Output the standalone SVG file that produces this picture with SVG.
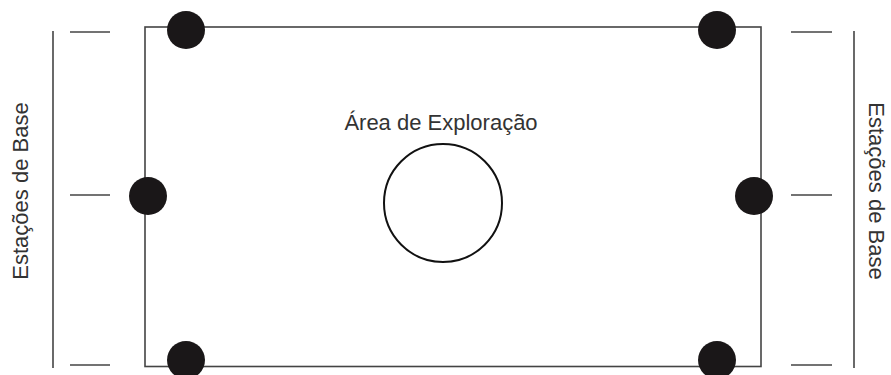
<svg xmlns="http://www.w3.org/2000/svg" width="891" height="375" viewBox="0 0 891 375">
<style>
.ln{stroke:#444;stroke-width:1.6;fill:none}
.dot{fill:#1a1718}
.lbl{font-family:"Liberation Sans",Arial,sans-serif;font-size:22px;fill:#333}
</style>
<rect width="891" height="375" fill="#fff"/>
<g id="connectors">
<rect class="ln" x="145" y="27" width="616" height="339.5"/>
<line class="ln" x1="53" y1="31" x2="53" y2="368"/>
<line class="ln" x1="70" y1="32" x2="110" y2="32"/>
<line class="ln" x1="70" y1="195" x2="110" y2="195"/>
<line class="ln" x1="70" y1="365" x2="110" y2="365"/>
<line class="ln" x1="854" y1="31" x2="854" y2="368"/>
<line class="ln" x1="791" y1="32" x2="832" y2="32"/>
<line class="ln" x1="791" y1="195" x2="832" y2="195"/>
<line class="ln" x1="791" y1="365" x2="832" y2="365"/>
</g>
<g id="station-tl"><circle class="dot" cx="186" cy="30" r="19"/></g>
<g id="station-tr"><circle class="dot" cx="717" cy="30" r="19"/></g>
<g id="station-ml"><circle class="dot" cx="148" cy="196" r="19"/></g>
<g id="station-mr"><circle class="dot" cx="754" cy="196" r="19"/></g>
<g id="station-bl"><circle class="dot" cx="186" cy="360" r="19"/></g>
<g id="station-br"><circle class="dot" cx="717" cy="360" r="19"/></g>
<g id="area">
<text class="lbl" x="441" y="130" text-anchor="middle">Área de Exploração</text>
<circle cx="443" cy="203" r="59" fill="none" stroke="#111" stroke-width="2"/>
</g>
<g id="label-left"><text class="lbl" transform="translate(28,191) rotate(-90)" text-anchor="middle">Estações de Base</text></g>
<g id="label-right"><text class="lbl" transform="translate(869,191) rotate(90)" text-anchor="middle">Estações de Base</text></g>
</svg>
